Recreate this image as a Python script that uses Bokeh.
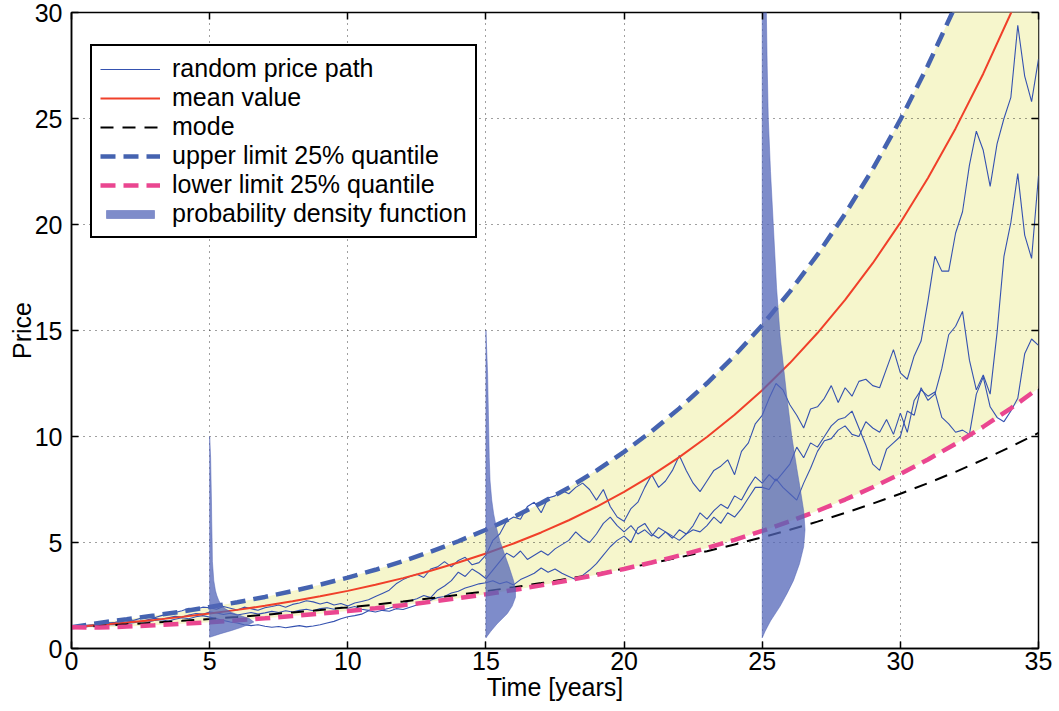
import numpy as np
from bokeh.plotting import figure
from bokeh.models import Legend, LegendItem, LinearAxis, FixedTicker, Range1d
from bokeh.embed import file_html
from bokeh.resources import INLINE

# ---------------- data ----------------
x_ticks = [0, 5, 10, 15, 20, 25, 30, 35]
y_ticks = [0, 5, 10, 15, 20, 25, 30]

t_curve = list(range(36))
mean_value = [1.000, 1.105, 1.221, 1.350, 1.492, 1.649, 1.822, 2.014, 2.226, 2.460,
              2.718, 3.004, 3.320, 3.669, 4.055, 4.482, 4.953, 5.474, 6.050, 6.686,
              7.389, 8.166, 9.025, 9.974, 11.023, 12.182, 13.464, 14.880, 16.445, 18.174,
              20.086, 22.198, 24.533, 27.113, 29.964, 33.115]
mode_value = [1.000, 1.069, 1.142, 1.220, 1.304, 1.393, 1.488, 1.590, 1.699, 1.816,
              1.940, 2.073, 2.215, 2.367, 2.529, 2.702, 2.887, 3.085, 3.296, 3.522,
              3.763, 4.021, 4.297, 4.591, 4.906, 5.242, 5.601, 5.984, 6.394, 6.833,
              7.301, 7.801, 8.335, 8.906, 9.517, 10.168]
upper_q = [1.000, 1.209, 1.378, 1.555, 1.746, 1.954, 2.182, 2.433, 2.708, 3.011,
           3.345, 3.713, 4.119, 4.566, 5.059, 5.602, 6.201, 6.861, 7.590, 8.393,
           9.277, 10.251, 11.326, 12.510, 13.815, 15.251, 16.834, 18.578, 20.499, 22.614,
           24.944, 27.509, 30.335, 33.447, 36.874, 40.646]
lower_q = [1.000, 0.988, 1.035, 1.095, 1.165, 1.243, 1.329, 1.424, 1.528, 1.641,
           1.764, 1.898, 2.043, 2.201, 2.373, 2.559, 2.760, 2.979, 3.217, 3.474,
           3.753, 4.056, 4.384, 4.740, 5.126, 5.545, 5.999, 6.492, 7.026, 7.607,
           8.236, 8.916, 9.657, 10.460, 11.332, 12.278]

t_path = np.arange(0, 35.001, 0.25)
path_a = [1.00, 1.05, 1.10, 1.08, 1.18, 1.22, 1.20, 1.30, 1.35, 1.33, 1.42, 1.48, 1.45, 1.55, 1.62, 1.70,
          1.78, 1.90, 1.85, 1.95, 1.92, 1.85, 1.98, 1.90, 1.82, 1.95, 1.88, 1.80, 1.92, 1.98, 2.05, 1.95,
          2.08, 2.15, 2.25, 2.20, 2.10, 2.18, 2.05, 2.12, 2.00, 2.15, 2.22, 2.30, 2.45, 2.60, 2.75, 3.05,
          3.25, 3.40, 3.50, 3.35, 3.75, 3.85, 4.10, 3.85, 4.15, 4.30, 3.95, 4.05, 4.40, 5.10, 5.40, 6.00,
          6.20, 6.10, 6.70, 6.90, 6.40, 7.10, 7.20, 7.45, 7.30, 7.60, 7.80, 7.50, 7.00, 7.50, 6.70, 6.20,
          6.00, 6.60, 6.90, 7.60, 8.20, 7.60, 7.90, 8.40, 9.10, 8.40, 7.80, 7.40, 7.90, 8.40, 8.60, 8.90,
          8.20, 9.30, 9.70, 10.60, 11.00, 11.80, 12.50, 12.20, 11.50, 11.00, 10.40, 11.30, 11.40, 11.80, 12.40, 11.60,
          12.30, 11.90, 12.60, 12.70, 12.40, 12.30, 13.20, 14.10, 13.00, 12.70, 13.80, 14.50, 16.40, 18.50, 17.80, 17.80,
          19.60, 20.60, 22.80, 24.40, 23.50, 21.80, 23.80, 25.00, 26.00, 29.40, 27.00, 25.80, 27.80]
path_b = [1.00, 1.03, 1.08, 1.12, 1.10, 1.15, 1.22, 1.18, 1.25, 1.30, 1.26, 1.35, 1.42, 1.38, 1.45, 1.52,
          1.48, 1.58, 1.65, 1.62, 1.72, 1.68, 1.60, 1.66, 1.58, 1.64, 1.70, 1.62, 1.68, 1.75, 1.70, 1.78,
          1.72, 1.80, 1.85, 1.78, 1.88, 1.92, 1.85, 1.95, 1.90, 1.98, 1.85, 1.80, 1.88, 1.82, 1.90, 2.00,
          2.10, 2.25, 2.35, 2.50, 2.40, 2.75, 2.95, 3.20, 3.60, 3.40, 3.75, 3.55, 3.30, 3.70, 4.10, 4.50,
          4.30, 4.60, 4.20, 4.40, 4.60, 4.40, 4.70, 4.90, 5.10, 5.50, 5.20, 5.00, 5.40, 5.90, 6.20, 5.80,
          5.50, 5.80, 5.40, 5.60, 5.30, 5.70, 5.50, 5.20, 5.60, 5.40, 5.80, 6.40, 6.10, 6.50, 6.80, 6.60,
          7.20, 7.00, 7.60, 8.10, 7.80, 8.20, 7.90, 8.30, 8.70, 9.50, 9.00, 9.70, 9.50, 10.00, 10.50, 10.80,
          10.90, 11.20, 10.40, 9.60, 8.70, 8.40, 9.40, 9.70, 10.00, 11.20, 11.00, 12.30, 11.70, 12.00, 13.20, 14.80,
          15.20, 15.90, 13.60, 12.20, 12.90, 12.00, 14.90, 18.50, 20.10, 22.40, 19.50, 18.40, 22.30]
path_c = [1.00, 0.98, 1.02, 1.06, 1.04, 1.10, 1.14, 1.12, 1.18, 1.22, 1.28, 1.25, 1.32, 1.36, 1.30, 1.38,
          1.45, 1.40, 1.50, 1.55, 1.48, 1.40, 1.32, 1.25, 1.20, 1.12, 1.08, 1.12, 1.05, 1.00, 1.04, 0.98,
          1.03, 1.08, 1.02, 1.06, 1.12, 1.20, 1.28, 1.40, 1.50, 1.55, 1.62, 1.78, 1.72, 1.80, 1.76, 1.88,
          1.84, 1.95, 2.05, 2.20, 2.28, 2.40, 2.45, 2.62, 2.70, 2.85, 2.95, 3.05, 3.10, 3.20, 3.05, 3.15,
          3.00, 3.25, 3.40, 3.55, 3.80, 3.60, 3.75, 3.55, 3.40, 3.25, 3.45, 3.70, 4.00, 4.40, 4.80, 5.10,
          5.30, 5.00, 5.70, 5.90, 5.40, 5.20, 5.50, 5.30, 5.10, 5.40, 5.60, 5.50, 5.80, 6.20, 5.90, 6.40,
          6.20, 6.60, 7.10, 7.60, 7.60, 7.50, 8.00, 7.60, 7.30, 7.00, 7.80, 8.50, 9.30, 9.80, 9.90, 10.30,
          10.50, 10.10, 10.00, 10.70, 10.40, 10.20, 10.80, 10.10, 11.10, 10.20, 11.70, 12.20, 11.90, 12.10, 10.90, 10.60,
          10.20, 10.30, 10.10, 12.00, 12.80, 11.40, 10.90, 10.70, 11.20, 11.80, 13.90, 14.60, 14.30]

pdf_times = [5, 15, 25]
pdf5_y = [0.53, 0.70, 0.85, 1.00, 1.15, 1.25, 1.40, 1.56, 1.70, 1.87, 2.05, 2.26, 2.50, 2.73, 3.20,
          4.10, 5.00, 6.00, 7.00, 8.00, 9.00, 10.00]
pdf5_w = [0.00, 0.40, 0.80, 1.15, 1.45, 1.60, 1.45, 1.10, 0.80, 0.57, 0.43, 0.33, 0.26, 0.21, 0.15,
          0.10, 0.09, 0.075, 0.065, 0.05, 0.035, 0.00]
pdf15_y = [0.50, 0.80, 1.16, 1.64, 2.00, 2.42, 2.80, 3.20, 3.84, 4.50, 5.10, 5.70, 6.35, 7.00, 7.90,
           9.00, 11.00, 13.00, 15.00]
pdf15_w = [0.00, 0.17, 0.40, 0.77, 0.95, 1.07, 1.07, 1.00, 0.84, 0.66, 0.50, 0.38, 0.28, 0.21, 0.15,
           0.12, 0.09, 0.06, 0.00]
pdf25_y = [0.50, 0.80, 1.30, 2.00, 2.60, 3.20, 4.00, 4.80, 5.60, 6.50, 7.50, 8.50, 10.00, 12.00, 14.70,
           17.00, 20.00, 22.50, 25.00, 27.50, 30.00, 32.00]
pdf25_w = [0.00, 0.10, 0.30, 0.65, 0.90, 1.13, 1.35, 1.50, 1.55, 1.50, 1.38, 1.25, 1.07, 0.88, 0.65,
           0.52, 0.40, 0.30, 0.22, 0.18, 0.15, 0.12]

legend_labels = ["random price path", "mean value", "mode", "upper limit 25% quantile",
                 "lower limit 25% quantile", "probability density function"]

# ---------------- styles ----------------
FONT = "Liberation Sans"
FS = "25px"
PATH_C = "#3552b0"
MEAN_C = "#f0402a"
UP_C = "#4563b0"
LOW_C = "#ea4690"
PDF_C = "#5366b8"
BAND_C = "#f6f6cc"

p = figure(width=1059, height=711, output_backend="svg", toolbar_location=None,
           x_range=Range1d(0, 35), y_range=Range1d(0, 30),
           min_border_left=71, min_border_right=21, min_border_top=12, min_border_bottom=63)
p.background_fill_color = "white"
p.border_fill_color = "white"
p.outline_line_color = "black"
p.outline_line_width = 1.5

band = p.varea(x=t_curve, y1=lower_q, y2=upper_q, fill_color=BAND_C, fill_alpha=1.0)
band.level = "image"

r_paths = []
for pv in (path_a, path_b, path_c):
    r_paths.append(p.line(t_path, pv, line_color=PATH_C, line_width=1.1))

r_mean = p.line(t_curve, mean_value, line_color=MEAN_C, line_width=2)
r_mode = p.line(t_curve, mode_value, line_color="black", line_width=2, line_dash="13 9")
r_up = p.line(t_curve, upper_q, line_color=UP_C, line_width=4.5, line_dash="15 8")
r_low = p.line(t_curve, lower_q, line_color=LOW_C, line_width=4.5, line_dash="15 8")

xs, ys = [], []
for t0, yy, ww in zip(pdf_times, (pdf5_y, pdf15_y, pdf25_y), (pdf5_w, pdf15_w, pdf25_w)):
    xs.append([t0] + [t0 + w for w in ww] + [t0])
    ys.append([yy[0]] + list(yy) + [yy[-1]])
r_pdf = p.patches(xs, ys, fill_color=PDF_C, fill_alpha=0.75, line_color=PDF_C,
                  line_alpha=0.5, line_width=1)

# grid
p.grid.grid_line_color = "black"
p.grid.grid_line_alpha = 0.75
p.grid.grid_line_dash = "1 5"
p.grid.grid_line_width = 1
p.xgrid.ticker = FixedTicker(ticks=x_ticks)
p.ygrid.ticker = FixedTicker(ticks=y_ticks)

# axes
for ax, ticks in ((p.xaxis[0], x_ticks), (p.yaxis[0], y_ticks)):
    ax.ticker = FixedTicker(ticks=ticks)
    ax.major_tick_in = 7
    ax.major_tick_out = 0
    ax.minor_tick_line_color = None
    ax.axis_line_color = "black"
    ax.axis_line_width = 1.5
    ax.major_tick_line_width = 1.5
    ax.major_label_text_font = FONT
    ax.major_label_text_font_size = FS
    ax.major_label_text_color = "black"
    ax.axis_label_text_font = FONT
    ax.axis_label_text_font_size = FS
    ax.axis_label_text_font_style = "normal"
    ax.axis_label_text_color = "black"

p.xaxis.axis_label = "Time [years]"
p.yaxis.axis_label = "Price"
p.xaxis.major_label_standoff = 3
p.xaxis.axis_label_standoff = 0
p.yaxis.major_label_standoff = 9
p.yaxis.axis_label_standoff = -4

for loc, ticks in (("right", y_ticks), ("above", x_ticks)):
    ax2 = LinearAxis(ticker=FixedTicker(ticks=ticks), major_tick_in=7, major_tick_out=0,
                     major_tick_line_width=1.5, minor_tick_line_color=None,
                     axis_line_color=None, major_label_text_font_size="1px",
                     major_label_text_color=None, major_label_standoff=0,
                     major_label_overrides={t: " " for t in ticks})
    p.add_layout(ax2, loc)

items = [LegendItem(label=legend_labels[0], renderers=[r_paths[0]]),
         LegendItem(label=legend_labels[1], renderers=[r_mean]),
         LegendItem(label=legend_labels[2], renderers=[r_mode]),
         LegendItem(label=legend_labels[3], renderers=[r_up]),
         LegendItem(label=legend_labels[4], renderers=[r_low]),
         LegendItem(label=legend_labels[5], renderers=[r_pdf])]
legend = Legend(items=items, location=(19, 410), padding=8, spacing=0,
                glyph_width=60, glyph_height=10, label_height=26, label_standoff=12,
                label_text_font=FONT, label_text_font_size=FS, label_text_color="black",
                border_line_color="black", border_line_width=2, border_line_alpha=1,
                background_fill_color="white", background_fill_alpha=1, margin=0)
p.add_layout(legend)

open("out.html", "w").write(file_html(p, INLINE))
